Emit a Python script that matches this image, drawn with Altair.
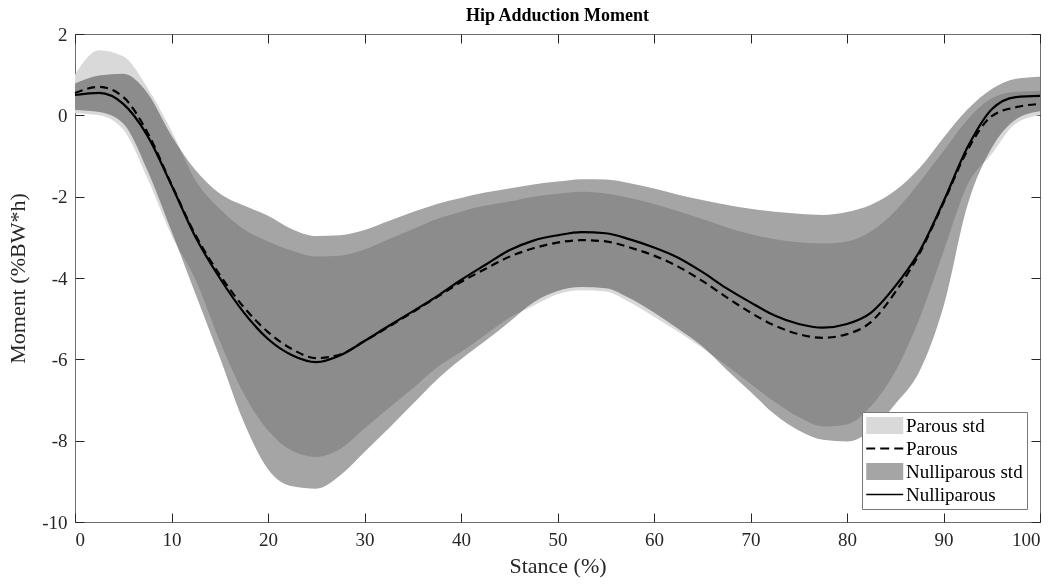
import altair as alt
import pandas as pd

# Gait stance phase (% of stance), sampled every 2.5 %
stance = [0, 2.5, 5, 7.5, 10, 12.5, 15, 17.5, 20, 22.5, 25, 27.5, 30, 32.5, 35,
          37.5, 40, 42.5, 45, 47.5, 50, 52.5, 55, 57.5, 60, 62.5, 65, 67.5, 70,
          72.5, 75, 77.5, 80, 82.5, 85, 87.5, 90, 92.5, 95, 97.5, 100]

# Mean hip adduction moment (%BW*h)
nulli_mean = [0.50, 0.55, 0.28, -0.50, -1.72, -3.00, -4.00, -4.85, -5.50, -5.90,
              -6.07, -5.90, -5.55, -5.18, -4.82, -4.45, -4.05, -3.68, -3.32, -3.08,
              -2.95, -2.87, -2.90, -3.05, -3.25, -3.50, -3.85, -4.25, -4.60, -4.92,
              -5.13, -5.22, -5.13, -4.85, -4.20, -3.35, -2.12, -0.78, 0.15, 0.45, 0.48]
parous_mean = [0.55, 0.70, 0.45, -0.42, -1.70, -2.95, -3.92, -4.72, -5.33, -5.75,
               -5.97, -5.88, -5.55, -5.20, -4.84, -4.47, -4.10, -3.78, -3.48, -3.27,
               -3.13, -3.07, -3.10, -3.25, -3.45, -3.72, -4.07, -4.47, -4.85, -5.17,
               -5.38, -5.47, -5.38, -5.08, -4.35, -3.40, -2.15, -0.85, -0.02, 0.20, 0.28]

# Standard-deviation envelopes (upper / lower edges)
nulli_upper = [0.78, 0.98, 1.02, 0.55, -0.50, -1.35, -1.92, -2.22, -2.47, -2.80,
               -2.97, -2.95, -2.82, -2.60, -2.38, -2.18, -2.03, -1.90, -1.80, -1.70,
               -1.63, -1.57, -1.58, -1.67, -1.80, -1.95, -2.08, -2.20, -2.30, -2.37,
               -2.42, -2.45, -2.38, -2.20, -1.85, -1.30, -0.55, 0.15, 0.65, 0.90, 0.95]
nulli_lower = [0.13, 0.08, -0.20, -1.35, -2.85, -4.40, -5.95, -7.55, -8.70, -9.12,
               -9.18, -8.85, -8.28, -7.70, -7.10, -6.50, -6.00, -5.55, -5.08, -4.60,
               -4.32, -4.22, -4.25, -4.50, -4.85, -5.25, -5.68, -6.25, -6.80, -7.35,
               -7.75, -7.98, -8.02, -7.75, -7.10, -6.30, -4.70, -2.20, -0.80, -0.10, 0.10]
parous_upper = [1.00, 1.60, 1.45, 0.68, -0.38, -1.60, -2.30, -2.80, -3.10, -3.33,
                -3.47, -3.45, -3.30, -3.05, -2.80, -2.55, -2.37, -2.22, -2.12, -2.00,
                -1.93, -1.88, -1.92, -2.03, -2.18, -2.36, -2.55, -2.75, -2.92, -3.05,
                -3.12, -3.15, -3.10, -2.85, -2.35, -1.65, -0.88, -0.10, 0.42, 0.58, 0.60]
parous_lower = [0.05, 0.00, -0.35, -1.55, -2.95, -4.05, -5.55, -6.85, -7.75, -8.25,
                -8.40, -8.20, -7.70, -7.20, -6.72, -6.20, -5.82, -5.40, -4.98, -4.68,
                -4.40, -4.30, -4.33, -4.60, -4.95, -5.32, -5.72, -6.15, -6.60, -7.05,
                -7.42, -7.65, -7.60, -7.15, -6.30, -5.00, -3.35, -1.70, -0.95, -0.20, 0.00]

x_ticks = [0, 10, 20, 30, 40, 50, 60, 70, 80, 90, 100]
y_ticks = [-10, -8, -6, -4, -2, 0, 2]

legend_entries = ["Parous std", "Parous", "Nulliparous std", "Nulliparous"]

df = pd.DataFrame({
    "stance": stance,
    "nulli_mean": nulli_mean, "parous_mean": parous_mean,
    "nulli_upper": nulli_upper, "nulli_lower": nulli_lower,
    "parous_upper": parous_upper, "parous_lower": parous_lower,
})

W, H = 965, 488
FONT = "Liberation Serif"
INK = "#262626"
LIGHT = "#d9d9d9"
MEDIUM = "#a5a5a5"

x_scale = alt.Scale(domain=[0, 100], nice=False, zero=False)
y_scale = alt.Scale(domain=[-10, 2], nice=False, zero=False)

# Labelled axes (ticks drawn separately so they point inward)
x_main = alt.Axis(orient="bottom", values=x_ticks, title="Stance (%)", ticks=False,
                  domain=False, grid=False, labelFont=FONT, labelFontSize=19,
                  labelColor=INK, labelPadding=8, labelExpr="'' + datum.value",
                  titleFont=FONT, titleFontSize=22, titleFontWeight="normal",
                  titleColor=INK, titlePadding=6)
y_main = alt.Axis(orient="left", values=y_ticks, title="Moment (%BW*h)", ticks=False,
                  domain=False, grid=False, labelFont=FONT, labelFontSize=19,
                  labelColor=INK, labelPadding=8, labelExpr="'' + datum.value",
                  titleFont=FONT, titleFontSize=22, titleFontWeight="normal",
                  titleColor=INK, titlePadding=12)


def tick_axis(orient, offset, values):
    return alt.Axis(orient=orient, offset=offset, values=values, labels=False,
                    domain=False, grid=False, ticks=True, tickSize=9,
                    tickColor=INK, tickWidth=1, title=None)


band_parous = alt.Chart(df).mark_area(color=LIGHT, interpolate="monotone").encode(
    x=alt.X("stance:Q", scale=x_scale, axis=x_main),
    y=alt.Y("parous_upper:Q", scale=y_scale, axis=y_main),
    y2="parous_lower:Q",
)

band_nulli = alt.Chart(df).mark_area(color=MEDIUM, blend="multiply",
                                     interpolate="monotone").encode(
    x=alt.X("stance:Q", scale=x_scale, axis=None),
    y=alt.Y("nulli_upper:Q", scale=y_scale, axis=None),
    y2="nulli_lower:Q",
)

line_parous = alt.Chart(df).mark_line(color="black", strokeWidth=2.2,
                                      strokeDash=[8, 5], interpolate="monotone").encode(
    x=alt.X("stance:Q", scale=x_scale, axis=tick_axis("top", -H, x_ticks)),
    y=alt.Y("parous_mean:Q", scale=y_scale, axis=tick_axis("right", -W, y_ticks)),
)

line_nulli = alt.Chart(df).mark_line(color="black", strokeWidth=2.2,
                                     interpolate="monotone").encode(
    x=alt.X("stance:Q", scale=x_scale, axis=tick_axis("bottom", -H, x_ticks)),
    y=alt.Y("nulli_mean:Q", scale=y_scale, axis=tick_axis("left", -W, y_ticks)),
)

# Legend symbols: filled patches for the envelopes, bars for the mean curves
patch = "M-1,-0.92H3V0.92H-1Z"
dashes = ("M-1,-0.11H-0.03V0.11H-1Z M0.51,-0.11H1.48V0.11H0.51Z "
          "M2.03,-0.11H3V0.11H2.03Z")
solid = "M-1,-0.08H3V0.08H-1Z"

legend = alt.Legend(title=None, orient="none", legendX=787, legendY=378,
                    symbolSize=342, symbolStrokeWidth=0, symbolOpacity=1,
                    labelFont=FONT, labelFontSize=19, labelColor="black",
                    labelOffset=21, rowPadding=3, padding=4,
                    fillColor="white", strokeColor="#777777")

legend_layer = alt.Chart(pd.DataFrame({"entry": legend_entries})).transform_filter(
    "false"
).mark_point(filled=True, size=342, opacity=1).encode(
    fill=alt.Fill("entry:N", scale=alt.Scale(domain=legend_entries,
                                             range=[LIGHT, "black", MEDIUM, "black"]),
                  legend=legend),
    shape=alt.Shape("entry:N", scale=alt.Scale(domain=legend_entries,
                                               range=[patch, dashes, patch, solid]),
                    legend=legend),
)

chart = alt.layer(
    band_parous, band_nulli, line_parous, line_nulli, legend_layer
).resolve_axis(
    x="independent", y="independent"
).properties(
    width=W, height=H,
    title=alt.TitleParams("Hip Adduction Moment", font=FONT, fontSize=18,
                          fontWeight="bold", color="black", anchor="middle", offset=0),
    padding={"left": 75, "top": 34, "right": 21, "bottom": 64},
    autosize=alt.AutoSizeParams(type="none"),
).configure_view(stroke="#6e6e6e", strokeWidth=1)

chart.save("out.html", embed_options={"renderer": "svg", "actions": False})
